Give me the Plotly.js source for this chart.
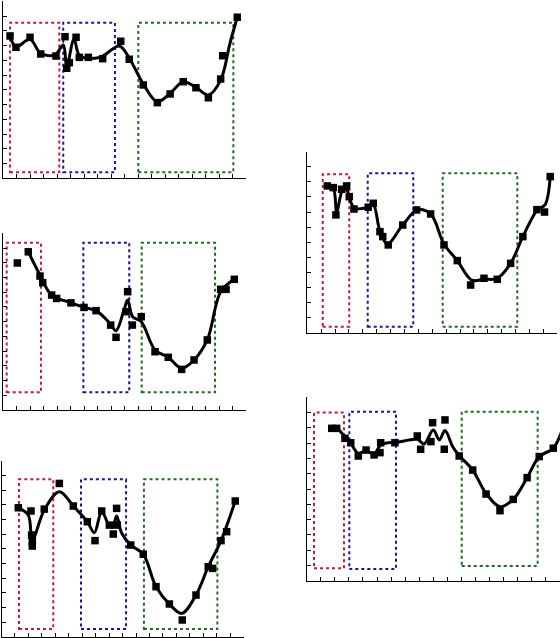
<!DOCTYPE html>
<html>
<head>
<meta charset="utf-8">
<script src="https://cdn.plot.ly/plotly-3.0.1.min.js"></script>
<style>html,body{margin:0;padding:0;background:#fff;}#chart{width:560px;height:638px;}</style>
</head>
<body>
<div id="chart"></div>
<script>
// ---------- Panel 1 (top-left) ----------
const p1PointsX = [0.50,0.94,1.98,2.77,3.90,4.57,4.70,4.89,5.39,5.63,6.30,7.36,8.70,9.33,10.37,11.41,12.36,13.33,14.27,15.19,16.10,16.25,17.33];
const p1PointsY = [9.65,8.88,9.56,8.43,8.29,9.60,7.46,7.84,9.56,8.20,8.20,8.11,9.29,8.07,6.33,5.13,5.72,6.55,6.14,5.46,6.73,8.31,10.92];
const p1CurveX = [0.50,0.94,1.98,2.77,3.83,4.44,4.70,5.24,5.68,7.16,8.59,9.33,10.37,11.41,12.36,13.33,14.27,15.19,16.10,16.79,17.33];
const p1CurveY = [9.65,8.92,9.42,8.47,8.36,9.04,7.60,9.42,8.29,8.20,8.97,8.14,6.39,5.19,5.76,6.55,6.17,5.65,6.66,9.15,10.92];
const p1Regions = [[0.50,4.15,0.41,10.55],[4.44,8.27,0.41,10.55],[10.00,17.04,0.41,10.55]];

// ---------- Panel 2 (middle-left) ----------
const p2PointsX = [1.04,1.85,2.72,2.92,3.58,3.95,5.01,5.98,6.87,7.95,8.35,9.09,9.21,9.56,10.22,11.24,12.22,13.21,14.13,15.11,16.10,16.50,17.11];
const p2PointsY = [9.99,10.75,9.10,8.65,7.81,7.58,7.28,6.97,6.75,5.77,4.94,6.68,8.04,5.77,6.34,3.96,3.58,2.76,3.40,4.76,8.20,8.20,8.88];
const p2CurveX = [1.85,2.72,3.58,5.01,5.98,6.87,7.90,8.35,8.94,9.21,9.58,10.22,11.24,12.22,13.21,14.13,15.11,16.10,17.11];
const p2CurveY = [10.75,9.17,7.81,7.29,6.97,6.75,5.89,5.39,6.79,7.47,6.34,6.00,4.08,3.58,2.83,3.40,4.76,8.04,8.88];
const p2Regions = [[0.25,2.79,1.20,11.37],[5.93,9.33,1.20,11.37],[10.25,15.68,1.20,11.37]];

// ---------- Panel 3 (bottom-left) ----------
const p3PointsX = [1.25,2.19,2.24,2.29,2.29,3.18,4.30,5.34,6.38,6.95,7.45,8.02,8.31,8.56,8.61,9.61,10.54,11.49,12.48,13.44,14.46,15.37,15.70,16.32,16.74,17.38];
const p3PointsY = [8.79,8.57,6.93,6.48,6.18,8.70,10.45,8.91,7.84,6.55,8.57,7.61,7.00,8.75,7.61,6.25,5.62,3.41,2.23,1.14,2.84,4.77,4.66,6.55,7.16,9.25];
const p3CurveX = [1.25,1.99,2.29,3.18,4.30,5.34,6.38,6.90,7.45,8.02,8.27,8.56,8.94,9.61,10.54,11.49,12.48,13.40,14.46,15.37,16.32,17.38];
const p3CurveY = [8.79,8.30,6.59,8.64,9.88,8.91,7.84,7.09,8.52,7.55,7.46,8.23,7.05,6.25,5.62,3.41,2.23,1.59,2.84,4.77,6.55,9.25];
const p3Regions = [[1.30,3.85,0.52,10.73],[5.91,9.26,0.52,10.73],[10.59,16.05,0.52,10.73]];

// ---------- Panel 4 (middle-right) ----------
const p4PointsX = [1.44,1.87,2.06,2.47,2.83,3.02,3.36,4.39,4.75,5.23,5.43,5.83,6.87,7.87,8.88,9.84,10.80,11.76,12.72,13.68,14.64,15.52,16.53,17.08,17.49];
const p4PointsY = [9.73,9.62,7.81,9.51,9.73,9.02,8.20,8.32,8.58,6.70,6.37,5.82,7.14,8.14,7.87,5.82,4.78,3.16,3.61,3.54,4.60,6.37,8.16,8.00,10.35];
const p4CurveX = [1.44,1.87,2.12,2.55,2.84,3.07,3.43,4.39,4.75,5.23,5.76,6.87,7.92,8.88,9.84,10.80,11.84,12.72,13.68,14.64,15.52,16.56,17.11,17.49];
const p4CurveY = [9.73,9.58,8.02,9.46,9.46,8.80,8.25,8.32,8.47,6.74,5.88,7.14,8.14,7.87,5.88,4.78,3.49,3.54,3.61,4.60,6.37,8.14,8.47,10.35];
const p4Regions = [[1.11,3.02,0.40,10.50],[4.35,7.63,0.40,10.57],[9.75,15.12,0.40,10.57]];

// ---------- Panel 5 (bottom-right) ----------
const p5PointsX = [1.78,2.13,2.72,3.13,3.67,4.22,4.79,5.26,5.21,6.27,7.86,8.10,8.83,8.95,9.83,9.78,10.84,11.80,12.75,13.74,14.68,15.67,16.53,17.53];
const p5PointsY = [9.97,9.97,9.32,9.03,8.16,8.55,8.23,9.03,8.38,9.03,9.47,8.60,9.10,10.34,10.52,8.60,8.16,7.24,5.67,4.58,5.32,6.74,8.12,8.67];
const p5CurveX = [1.78,2.13,2.72,3.13,3.67,4.22,4.79,5.26,5.80,6.27,7.86,8.34,9.00,9.43,9.83,10.38,10.84,11.80,12.75,13.74,14.68,15.67,16.53,17.53,18.24];
const p5CurveY = [9.97,9.97,9.42,8.99,8.34,8.51,8.29,8.88,9.03,9.03,9.25,8.95,9.86,9.21,9.82,8.77,8.19,7.24,5.72,4.84,5.32,6.74,8.12,8.67,10.08];
const p5Regions = [[0.52,2.65,0.81,11.00],[3.03,6.35,0.76,11.05],[11.02,16.42,0.97,11.05]];

// ---------- styles / layout ----------
const regionColors = ['#c8163c', '#1414a8', '#1c6e1c'];
const panels = [
  {px: p1PointsX, py: p1PointsY, cx: p1CurveX, cy: p1CurveY, reg: p1Regions, xd: [3.3, 246.3], yd: [1.3, 178.3]},
  {px: p2PointsX, py: p2PointsY, cx: p2CurveX, cy: p2CurveY, reg: p2Regions, xd: [3.3, 246.3], yd: [233.4, 410.0]},
  {px: p3PointsX, py: p3PointsY, cx: p3CurveX, cy: p3CurveY, reg: p3Regions, xd: [1.5, 243.6], yd: [460.7, 636.7]},
  {px: p4PointsX, py: p4PointsY, cx: p4CurveX, cy: p4CurveY, reg: p4Regions, xd: [307.3, 557.3], yd: [151.7, 332.7]},
  {px: p5PointsX, py: p5PointsY, cx: p5CurveX, cy: p5CurveY, reg: p5Regions, xd: [306.7, 559.9], yd: [397.3, 580.7]}
];
const W = 560, H = 638;
const data = [];
const layout = {
  width: W, height: H, margin: {l: 0, r: 0, t: 0, b: 0},
  paper_bgcolor: '#fff', plot_bgcolor: 'rgba(0,0,0,0)',
  showlegend: false, shapes: []
};
panels.forEach((p, i) => {
  const n = i === 0 ? '' : String(i + 1);
  const xa = 'x' + n, ya = 'y' + n;
  p.reg.forEach((r, k) => {
    layout.shapes.push({
      type: 'rect', xref: xa, yref: ya,
      x0: r[0], x1: r[1], y0: r[2], y1: r[3],
      line: {color: regionColors[k], width: 2, dash: 'dot'},
      fillcolor: 'rgba(0,0,0,0)', layer: 'below'
    });
  });
  data.push({
    x: p.cx, y: p.cy, xaxis: xa, yaxis: ya, type: 'scatter', mode: 'lines',
    line: {color: '#000', width: 3, shape: 'spline', smoothing: 1},
    hoverinfo: 'skip'
  });
  data.push({
    x: p.px, y: p.py, xaxis: xa, yaxis: ya, type: 'scatter', mode: 'markers',
    marker: {symbol: 'square', size: 7.5, color: '#000'}, cliponaxis: false
  });
  const common = {
    showgrid: false, zeroline: false, showticklabels: false,
    showline: true, linecolor: '#000', linewidth: 1,
    ticks: 'inside', ticklen: 4, tickwidth: 1, tickcolor: '#000',
    tick0: 0, dtick: 1, fixedrange: true
  };
  layout['xaxis' + n] = Object.assign({}, common, {
    domain: [p.xd[0] / W, p.xd[1] / W], range: [0, 18], anchor: ya
  });
  layout['yaxis' + n] = Object.assign({}, common, {
    domain: [1 - p.yd[1] / H, 1 - p.yd[0] / H], range: [0, 12], anchor: xa
  });
});
Plotly.newPlot('chart', data, layout, {displayModeBar: false, staticPlot: true});
</script>
</body>
</html>
